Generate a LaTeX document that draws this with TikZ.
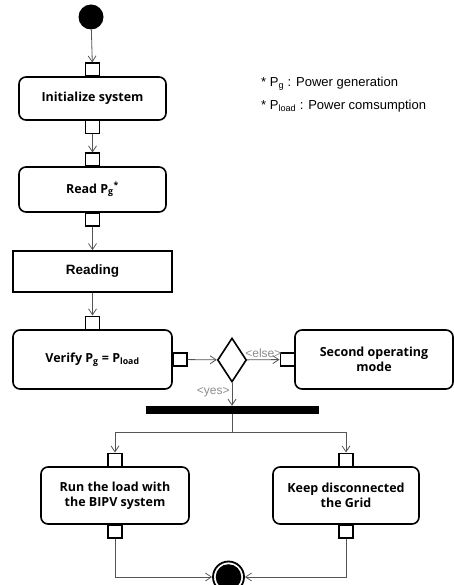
\documentclass[tikz,border=0pt]{standalone}
\usepackage{fontspec}
\setmainfont{Liberation Sans}
\newfontfamily\boxfont{Open Sans}
\usetikzlibrary{arrows.meta}
\usetikzlibrary{positioning}
\usetikzlibrary{shapes.geometric}

\definecolor{flowgray}{HTML}{555555}
\definecolor{guardgray}{HTML}{8C8C8C}

\tikzset{
  action/.style={draw, line width=1.6pt, rounded corners=7pt, fill=white, align=center,
    inner sep=2pt, font=\boxfont\bfseries\fontsize{12.5}{15.5}\selectfont},
  pinbox/.style={draw, line width=1.4pt, fill=white, minimum width=14pt,
    minimum height=13pt, inner sep=0pt},
  initial/.style={circle, fill=black, minimum size=25pt, inner sep=0pt},
  final/.style={circle, draw, line width=1.8pt, minimum size=31pt, inner sep=0pt,
    path picture={\fill (path picture bounding box.center) circle (12.8pt);}},
  flow/.style={draw=flowgray, line width=0.8pt, -{Straight Barb[length=6pt,width=8pt]}},
  guard/.style={text=guardgray, font=\fontsize{12}{13}\selectfont, inner sep=2pt},
  note/.style={anchor=west, inner sep=0pt, font=\fontsize{13}{15}\selectfont}
}

\begin{document}
\begin{tikzpicture}[x=1pt, y=-1pt]
    \useasboundingbox (0,0) rectangle (454,585);

    % actions
    \node [initial] (start) at (91,17) {};
    \node [action, minimum width=147pt, minimum height=43pt] (init) at (92.5,98.5) {Initialize system};
    \node [pinbox] (init-in)  [above = -0.7pt of init] {};
    \node [pinbox] (init-out) [below = -0.7pt of init] {};

    \node [action, minimum width=147pt, minimum height=45pt] (read) at (92.5,189.5)
        {Read P\textsubscript{g}\textsuperscript{*}};
    \node [pinbox] (read-in)  [above = -0.7pt of read] {};
    \node [pinbox] (read-out) [below = -0.7pt of read] {};

    \node [draw, line width=1.6pt, minimum width=159pt, minimum height=41pt,
           font=\bfseries\fontsize{13.5}{16}\selectfont] (reading) at (92.5,271.5) {Reading};

    \node [action, minimum width=159pt, minimum height=59pt] (verify) at (92.5,359.5)
        {Verify P\textsubscript{g} = P\textsubscript{load}};
    \node [pinbox] (verify-in)  [above = -0.7pt of verify] {};
    \node [pinbox] (verify-out) [right = -0.7pt of verify] {};

    \node [diamond, draw, line width=1.6pt, minimum width=29pt, minimum height=44pt,
           inner sep=0pt] (dec) at (232,360) {};

    \node [action, minimum width=158pt, minimum height=59pt] (second) at (374,359.5)
        {Second operating\\mode};
    \node [pinbox] (second-in) [left = -0.7pt of second] {};

    \node [fill=black, minimum width=173pt, minimum height=8pt, inner sep=0pt] (bar) at (232,410) {};
    \coordinate (fork) at (232,432);

    \node [action, minimum width=148pt, minimum height=57pt] (run) at (115,495.5)
        {Run the load with\\the BIPV system};
    \node [pinbox] (run-in)  [above = -0.7pt of run] {};
    \node [pinbox] (run-out) [below = -0.7pt of run] {};

    \node [action, minimum width=146pt, minimum height=57pt] (keep) at (346,495.5)
        {Keep disconnected\\the Grid};
    \node [pinbox] (keep-in)  [above = -0.7pt of keep] {};
    \node [pinbox] (keep-out) [below = -0.7pt of keep] {};

    \node [final] (stop) at (228.5,577) {};

    % legend
    \node [note] (note-g)    at (261,84)  {* P\textsubscript{g} : Power generation};
    \node [note] (note-load) at (261,106) {* P\textsubscript{load} : Power comsumption};

    \path[flow]
        (start) edge (init-in)
        (init-out) edge (read-in)
        (read-out) edge (reading)
        (reading) edge (verify-in)
        (verify-out) edge (dec)
        (dec) edge node [guard, above] {<else>} (second-in)
        (dec) edge node [guard, left, pos=0.4] {<yes>} (bar)
        ;
    \draw[draw=flowgray, line width=0.8pt] (bar) -- (fork);
    \draw[flow] (fork) -| (run-in);
    \draw[flow] (fork) -| (keep-in);
    \draw[flow] (run-out) |- (stop);
    \draw[flow] (keep-out) |- (stop);
\end{tikzpicture}
\end{document}
